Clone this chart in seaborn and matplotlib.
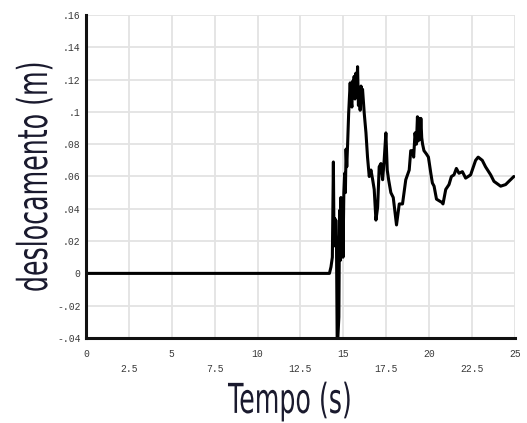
import matplotlib
matplotlib.use("Agg")
import matplotlib.pyplot as plt
import seaborn as sns
import pandas as pd
from matplotlib.ticker import FixedLocator
from matplotlib.patheffects import AbstractPathEffect
from matplotlib.transforms import Affine2D

tempo = [0, 14.19, 14.28, 14.36, 14.42, 14.46, 14.50, 14.53, 14.56, 14.60,
         14.64, 14.68, 14.74, 14.78, 14.82, 14.86, 14.90, 14.94, 14.98, 15.03,
         15.08, 15.12, 15.16, 15.20, 15.25, 15.31, 15.36, 15.40, 15.44, 15.50,
         15.54, 15.58, 15.63, 15.68, 15.73, 15.78, 15.83, 15.88, 15.93, 15.98,
         16.03, 16.08, 16.12, 16.22, 16.32, 16.41, 16.51, 16.61, 16.71, 16.80,
         16.90, 17.00, 17.09, 17.19, 17.29, 17.38, 17.48, 17.56, 17.64, 17.77,
         17.91, 18.10, 18.26, 18.45, 18.64, 18.84, 18.93, 19.03, 19.10, 19.18,
         19.26, 19.32, 19.37, 19.42, 19.47, 19.52, 19.57, 19.62, 19.70, 19.84,
         19.96, 20.10, 20.19, 20.29, 20.43, 20.58, 20.74, 20.81, 20.97, 21.16,
         21.30, 21.45, 21.59, 21.74, 21.94, 22.13, 22.42, 22.71, 22.86, 23.10,
         23.29, 23.59, 23.78, 24.17, 24.46, 24.65, 24.94]
deslocamento = [0, 0, 0.004, 0.010, 0.069, 0.017, 0.034, 0.018, 0.033, 0.020,
                -0.040, -0.040, -0.027, 0.039, 0.008, 0.047, 0.020, 0.045, 0.010, 0.050,
                0.062, 0.050, 0.077, 0.066, 0.080, 0.099, 0.110, 0.118, 0.108, 0.103,
                0.119, 0.110, 0.122, 0.108, 0.124, 0.112, 0.128, 0.104, 0.114, 0.101,
                0.116, 0.110, 0.114, 0.099, 0.087, 0.072, 0.060, 0.064, 0.058, 0.052,
                0.033, 0.041, 0.066, 0.068, 0.058, 0.070, 0.087, 0.064, 0.058, 0.050,
                0.047, 0.030, 0.043, 0.043, 0.058, 0.064, 0.076, 0.076, 0.072, 0.087,
                0.080, 0.097, 0.082, 0.096, 0.083, 0.096, 0.084, 0.080, 0.076, 0.074,
                0.072, 0.062, 0.056, 0.054, 0.046, 0.045, 0.044, 0.043, 0.052, 0.055,
                0.060, 0.061, 0.065, 0.062, 0.063, 0.059, 0.061, 0.070, 0.072, 0.070,
                0.066, 0.061, 0.057, 0.054, 0.055, 0.057, 0.060]

xticks_major = [0, 5, 10, 15, 20, 25]
xticks_minor = [2.5, 7.5, 12.5, 17.5, 22.5]
yticks = [-0.04, -0.02, 0, 0.02, 0.04, 0.06, 0.08, 0.10, 0.12, 0.14, 0.16]
ylabels = ["-.04", "-.02", "0", ".02", ".04", ".06", ".08", ".1", ".12", ".14", ".16"]


class Tall(AbstractPathEffect):
    """Draw text glyphs stretched vertically from the baseline (condensed look)."""
    def __init__(self, sy):
        super().__init__()
        self.sy = sy

    def draw_path(self, renderer, gc, tpath, affine, rgbFace=None):
        t = Affine2D().scale(1, self.sy) + affine
        renderer.draw_path(gc, tpath, t, rgbFace)


sns.set_style("white")
plt.rcParams['font.family'] = ['DejaVu Sans']

fig = plt.figure(figsize=(5.27, 4.23), dpi=100)
ax = fig.add_axes([0.1632, 0.201, 0.8138, 0.7635])

df = pd.DataFrame({"Tempo": tempo, "deslocamento": deslocamento})
sns.lineplot(data=df, x="Tempo", y="deslocamento", ax=ax, color="black", linewidth=2.2,
             estimator=None, sort=False)

tick_font = dict(fontfamily="Liberation Mono", fontsize=7, color="#3a3a3a")
ax.set_xlim(0, 25)
ax.set_ylim(-0.04, 0.16)
ax.xaxis.set_major_locator(FixedLocator(xticks_major))
ax.xaxis.set_minor_locator(FixedLocator(xticks_minor))
ax.set_xticklabels([str(v) for v in xticks_major], **tick_font)
ax.set_xticklabels([str(v) for v in xticks_minor], minor=True, **tick_font)
ax.set_yticks(yticks)
ax.set_yticklabels(ylabels, **tick_font)
ax.tick_params(axis="x", which="both", length=6, width=1.2, color="#dcdcdc")
ax.tick_params(axis="x", which="major", pad=2)
ax.tick_params(axis="x", which="minor", pad=13)
ax.tick_params(axis="y", length=0, pad=4)

ax.grid(True, which="both", color="#e3e3e3", linewidth=1.3)
for s in ["top", "right"]:
    ax.spines[s].set_visible(False)
for s in ["left", "bottom"]:
    ax.spines[s].set_color("#111111")
    ax.spines[s].set_linewidth(2.2)

label_kw = dict(fontfamily="DejaVu Sans", fontsize=18.2, color="#1a1a2e")
ax.set_xlabel("Tempo (s)", **label_kw)
ax.set_ylabel("deslocamento (m)", **label_kw)
ax.xaxis.label.set_path_effects([Tall(1.63)])
ax.yaxis.label.set_path_effects([Tall(1.63)])
ax.xaxis.label.set_verticalalignment("baseline")
ax.yaxis.label.set_verticalalignment("baseline")
ax.xaxis.set_label_coords(0.4755, -0.232)
ax.yaxis.set_label_coords(-0.0909, 0.498)

fig.savefig("out.png", dpi=100)
